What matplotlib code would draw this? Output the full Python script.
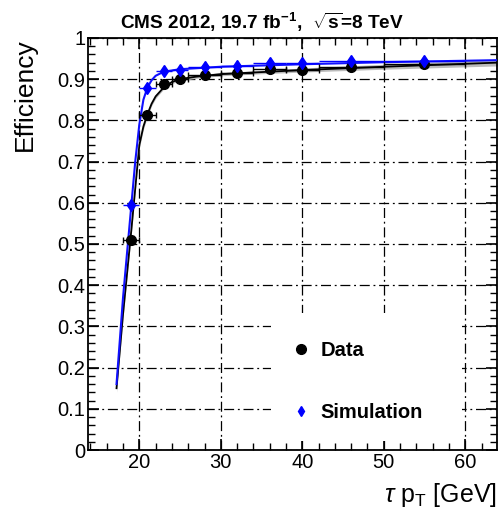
import matplotlib
matplotlib.use("Agg")
import matplotlib.pyplot as plt
from matplotlib.patches import Rectangle
from matplotlib.lines import Line2D
from matplotlib.ticker import MultipleLocator

plt.rcParams['font.family'] = ['Liberation Sans', 'DejaVu Sans']
plt.rcParams['mathtext.fontset'] = 'custom'
plt.rcParams['mathtext.rm'] = 'Liberation Sans'
plt.rcParams['mathtext.it'] = 'Liberation Sans:italic'
plt.rcParams['mathtext.bf'] = 'Liberation Sans:bold'

# binned efficiencies
pt_bins = [19, 21, 23, 25, 28, 32, 36, 40, 46, 55]
pt_halfwidth = [1, 1, 1, 1, 2, 2, 2, 2, 4, 5]
eff_data = [0.51, 0.813, 0.888, 0.900, 0.910, 0.914, 0.925, 0.923, 0.930, 0.937]
eff_data_err = [0.010, 0.008, 0.006, 0.005, 0.004, 0.004, 0.004, 0.004, 0.004, 0.005]
eff_sim = [0.595, 0.879, 0.920, 0.922, 0.929, 0.933, 0.940, 0.938, 0.943, 0.945]
eff_sim_err = [0.006, 0.005, 0.004, 0.004, 0.003, 0.003, 0.003, 0.003, 0.003, 0.004]

# fitted turn-on curves
fit_data_pt = [17.2, 18.0, 19.0, 20.0, 20.5, 21.0, 21.5, 22.0, 23.0, 24.0, 25.0, 27.0, 30.0, 35.0, 40.0, 50.0, 64.0]
fit_data_eff = [0.15, 0.33, 0.53, 0.74, 0.785, 0.815, 0.84, 0.858, 0.88, 0.893, 0.900, 0.906, 0.912, 0.917, 0.922, 0.930, 0.940]
fit_data_band = [0.010, 0.010, 0.010, 0.008, 0.007, 0.006, 0.005, 0.005, 0.004, 0.004, 0.004, 0.004, 0.004, 0.004, 0.005, 0.006, 0.008]
fit_sim_pt = [17.2, 18.0, 19.0, 19.5, 20.0, 20.5, 21.0, 21.5, 22.0, 23.0, 25.0, 30.0, 40.0, 50.0, 64.0]
fit_sim_eff = [0.16, 0.37, 0.59, 0.70, 0.79, 0.85, 0.88, 0.897, 0.908, 0.918, 0.924, 0.930, 0.936, 0.941, 0.946]

fig = plt.figure(figsize=(5.0, 5.12), dpi=100)
ax = fig.add_axes([0.176, 0.121, 0.818, 0.805])

ax.set_xlim(13.7, 63.9)
ax.set_ylim(0, 1)

ax.xaxis.set_major_locator(MultipleLocator(10))
ax.xaxis.set_minor_locator(MultipleLocator(2))
ax.yaxis.set_major_locator(MultipleLocator(0.1))
ax.yaxis.set_minor_locator(MultipleLocator(0.02))
ax.set_yticks([0, 0.1, 0.2, 0.3, 0.4, 0.5, 0.6, 0.7, 0.8, 0.9, 1.0])
ax.set_yticklabels(["0", "0.1", "0.2", "0.3", "0.4", "0.5", "0.6", "0.7", "0.8", "0.9", "1"])
ax.tick_params(which='both', direction='in', top=True, right=True, labelsize=14.5, pad=2)
ax.tick_params(which='major', length=8, width=1.2)
ax.tick_params(which='minor', length=5, width=1.0)
for sp in ax.spines.values():
    sp.set_linewidth(1.3)

ax.set_axisbelow(True)
ax.grid(True, which='major', color='black', linewidth=0.9, linestyle=(0, (8, 3, 1.5, 3)))

ax.fill_between(fit_data_pt,
                [e - b for e, b in zip(fit_data_eff, fit_data_band)],
                [e + b for e, b in zip(fit_data_eff, fit_data_band)],
                color='#bbbbbb', linewidth=0, zorder=2)
ax.plot(fit_data_pt, fit_data_eff, color='black', linewidth=1.3, zorder=3)
ax.plot(fit_sim_pt, fit_sim_eff, color='#1010ff', linewidth=1.5, zorder=4)

ax.errorbar(pt_bins, eff_data, xerr=pt_halfwidth, yerr=eff_data_err, fmt='o', color='black',
            markersize=7, elinewidth=1.0, capsize=2.5, zorder=5)
ax.errorbar(pt_bins, eff_sim, xerr=pt_halfwidth, yerr=eff_sim_err, fmt='d', color='#0000ff',
            markersize=6.5, elinewidth=1.0, capsize=0, zorder=6)

# white legend area covering the grid (leaves the axis ticks visible)
ax.add_patch(Rectangle((36.1, 0.022), 23.5, 0.311, facecolor='white', edgecolor='none', zorder=1))

handles = [Line2D([], [], marker='o', color='black', linestyle='none', markersize=7),
           Line2D([], [], marker='d', color='#0000ff', linestyle='none', markersize=5)]
leg = ax.legend(handles, ["Data", "Simulation"], loc='upper left', bbox_to_anchor=(0.473, 0.288),
                frameon=False, prop={'weight': 'bold', 'size': 14.5}, labelspacing=2.12,
                handlelength=0.9, handletextpad=0.55, borderpad=0)
leg.set_zorder(7)

ax.set_ylabel("Efficiency", fontsize=19)
ax.yaxis.set_label_coords(-0.125, 1.0)
ax.yaxis.label.set_ha('right')
ax.set_xlabel(r"$\tau$ p$_{\rm T}$ [GeV]", fontsize=18, ha='right')
ax.xaxis.set_label_coords(1.0, -0.075)

fig.text(0.524, 0.957, r"CMS 2012, 19.7 fb$^{\mathbf{-1}}$,  $\sqrt{\mathbf{s}}$=8 TeV", fontsize=13.7,
         weight='bold', ha='center', va='center')

fig.savefig("out.png", dpi=100)
